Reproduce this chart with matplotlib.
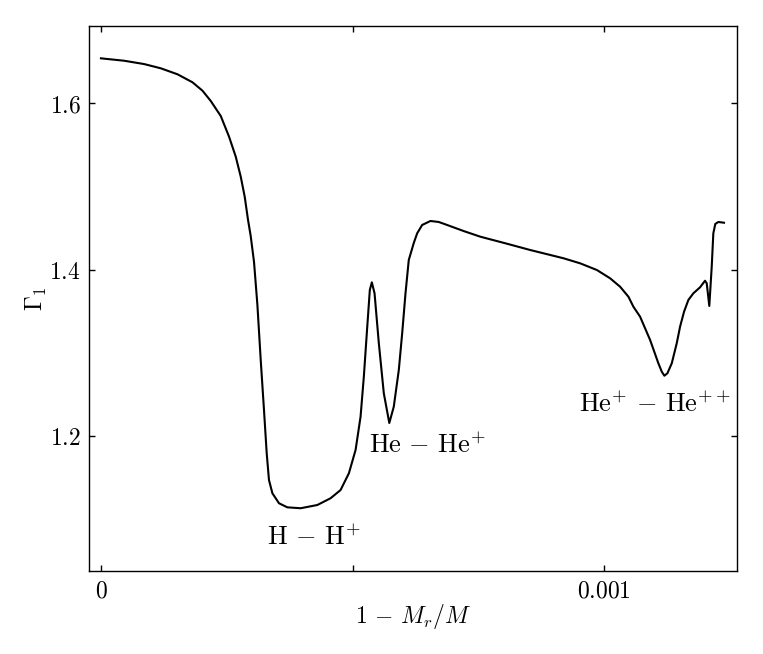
import matplotlib
matplotlib.use('Agg')
from matplotlib import pyplot as plt

plt.rcParams['mathtext.fontset'] = 'cm'
plt.rcParams['font.family'] = ['DejaVu Serif']

# 1 - M_r/M and the first adiabatic exponent
depth = [0.0, 0.0000462, 0.0000859, 0.0001190, 0.0001522, 0.0001819,
         0.0002018, 0.0002183, 0.0002381, 0.0002546, 0.0002679, 0.0002778,
         0.0002857, 0.0002923, 0.0002976, 0.0003042, 0.0003109, 0.0003175,
         0.0003240, 0.0003294, 0.0003339, 0.0003407, 0.0003538, 0.0003704,
         0.0003968, 0.0004300, 0.0004563, 0.0004762, 0.0004927, 0.0005060,
         0.0005159, 0.0005224, 0.0005292, 0.0005343, 0.0005383, 0.0005437,
         0.0005522, 0.0005621, 0.0005730, 0.0005819, 0.0005919,
         0.0005986, 0.0006052, 0.0006117, 0.0006216, 0.0006284, 0.0006383,
         0.0006548, 0.0006712, 0.0006879, 0.0007208, 0.0007540, 0.0008036,
         0.0008532, 0.0009192, 0.0009524, 0.0009855, 0.0010119, 0.0010317,
         0.0010482, 0.0010581, 0.0010714, 0.0010913, 0.0011077, 0.0011145,
         0.0011196, 0.0011256, 0.0011343, 0.0011442, 0.0011508, 0.0011587,
         0.0011673, 0.0011772, 0.0011905, 0.0012004, 0.0012038, 0.0012089,
         0.0012137, 0.0012169, 0.0012208, 0.0012268, 0.0012381]
gamma1 = [1.6537, 1.6508, 1.6468, 1.6417, 1.6345, 1.6249,
          1.6148, 1.6024, 1.5844, 1.5595, 1.5355, 1.5115,
          1.4874, 1.4595, 1.4402, 1.4090, 1.3574, 1.2913,
          1.2312, 1.1792, 1.1471, 1.1312, 1.1192, 1.1143,
          1.1132, 1.1171, 1.1252, 1.1351, 1.1552, 1.1832,
          1.2232, 1.2712, 1.3313, 1.3754, 1.3846, 1.3714,
          1.3114, 1.2513, 1.2156, 1.2352, 1.2793,
          1.3234, 1.3714, 1.4114, 1.4318, 1.4435, 1.4535,
          1.4583, 1.4571, 1.4535, 1.4462, 1.4394, 1.4315,
          1.4234, 1.4135, 1.4074, 1.3994, 1.3894, 1.3793,
          1.3673, 1.3553, 1.3433, 1.3153, 1.2873, 1.2772,
          1.2724, 1.2753, 1.2873, 1.3114, 1.3313, 1.3493,
          1.3634, 1.3714, 1.3786, 1.3865, 1.3834, 1.3562,
          1.4034, 1.4435, 1.4547, 1.4571, 1.4562]

# ionisation zone labels
zone_names = [r'$\mathrm{H}\,-\,\mathrm{H}^{+}$',
              r'$\mathrm{He}\,-\,\mathrm{He}^{+}$',
              r'$\mathrm{He}^{+}\,-\,\mathrm{He}^{++}$']
zone_x = [0.0004226, 0.0005317, 0.0011002]
zone_y = [1.069, 1.1796, 1.2288]
zone_ha = ['center', 'left', 'center']

fig = plt.figure(figsize=(7.63, 6.54), dpi=100)
ax = fig.add_axes([0.1166, 0.1269, 0.8493, 0.8333])

ax.plot(depth, gamma1, color='black', lw=1.5)

for name, x, y, ha in zip(zone_names, zone_x, zone_y, zone_ha):
    ax.text(x, y, name, ha=ha, va='baseline', fontsize=19)

ax.set_xlim(-0.0000238, 0.0012639)
ax.set_ylim(1.0378, 1.6925)
ax.set_xticks([0, 0.0005, 0.001])
ax.set_xticklabels([r'$0$', '', r'$0.001$'])
ax.set_yticks([1.2, 1.4, 1.6])
ax.set_yticklabels([r'$1.2$', r'$1.4$', r'$1.6$'])
ax.tick_params(direction='in', top=True, right=True, length=4, width=1,
               labelsize=17, pad=6)
for sp in ax.spines.values():
    sp.set_linewidth(1.0)

ax.set_xlabel(r'$1\,-\,M_r/M$', fontsize=17, labelpad=0)
ax.set_ylabel(r'$\Gamma_1$', fontsize=17, labelpad=0)

fig.savefig('out.png', dpi=100)
